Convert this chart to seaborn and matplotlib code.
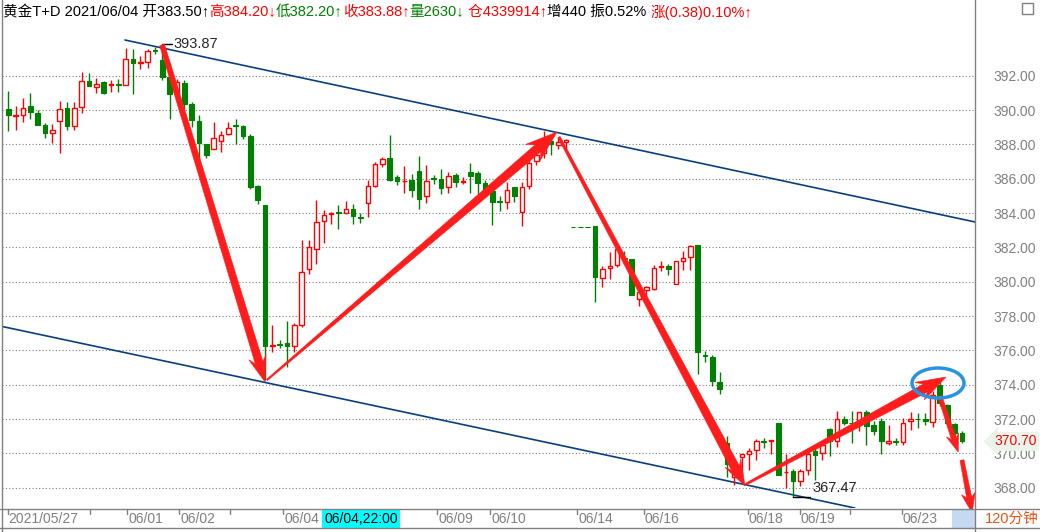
import numpy as np
import pandas as pd
import matplotlib
matplotlib.use("Agg")
import matplotlib.pyplot as plt
import matplotlib.transforms as mtransforms
from matplotlib.patches import Polygon, Ellipse, Rectangle
from matplotlib.lines import Line2D
import seaborn as sns

# 120-minute bars (open / high / low / close)
OPEN = [390.04, 389.65, 389.71, 390.22, 389.81, 389.11, 388.69, 389.38, 390.14, 389.09,
        390.20, 391.71, 391.36, 391.61, 391.46, 391.50, 391.48, 392.99, 392.74, 392.81,
        393.51, 392.93, 391.92, 390.95, 391.55, 390.33, 389.34, 388.05, 387.74, 388.20,
        388.63, 389.13, 389.05, 388.47, 385.57, 384.46, 376.25, 376.35, 376.42, 376.26,
        377.48, 380.76, 381.88, 383.51, 383.92, 384.04, 383.98, 384.21, 383.78, 384.56,
        385.60, 386.88, 387.19, 386.08, 385.84, 385.92, 386.45, 384.97, 386.04, 385.98,
        385.50, 386.21, 385.83, 386.41, 386.33, 385.75, 385.30, 384.68, 384.62, 385.50,
        384.04, 385.59, 387.03, 387.50, 388.21, 387.98, 388.12, 383.20, 383.20, 383.20,
        383.22, 380.19, 380.78, 380.95, 381.40, 381.34, 379.00, 379.51, 379.59, 380.83,
        380.93, 379.86, 381.20, 381.44, 382.16, 375.74, 375.63, 374.16, 370.60, 368.60,
        369.79, 369.96, 370.21, 370.72, 370.74, 371.77, 368.90, 368.99, 368.37, 369.05,
        370.12, 370.00, 371.42, 370.70, 372.00, 371.79, 371.67, 372.41, 371.67, 371.86,
        370.60, 370.74, 370.64, 371.88, 372.02, 372.00, 371.81, 374.00, 372.80, 371.70,
        371.20]
HIGH = [391.09, 390.22, 390.68, 390.97, 390.02, 389.23, 389.17, 390.51, 390.45, 390.45,
        392.23, 392.17, 391.88, 391.71, 391.73, 391.83, 393.63, 393.53, 393.12, 393.57,
        393.67, 393.87, 392.76, 391.81, 391.73, 390.49, 389.69, 388.05, 389.29, 388.78,
        389.29, 389.46, 389.11, 388.61, 385.62, 384.46, 377.48, 376.61, 377.72, 377.58,
        382.43, 382.43, 384.75, 384.15, 384.05, 384.46, 384.73, 384.52, 384.00, 385.93,
        386.96, 387.27, 388.57, 386.21, 386.74, 386.27, 387.34, 386.80, 386.21, 386.56,
        386.41, 386.33, 386.08, 386.93, 386.43, 385.90, 385.59, 384.97, 385.79, 385.50,
        385.79, 387.15, 387.73, 388.76, 388.35, 388.41, 388.31, 383.20, 383.20, 383.20,
        383.22, 380.89, 381.75, 381.96, 381.81, 381.34, 379.60, 379.73, 380.99, 381.22,
        381.03, 381.22, 381.81, 382.16, 382.16, 375.98, 375.71, 374.74, 371.00, 369.10,
        369.96, 370.31, 370.85, 370.89, 370.80, 371.77, 369.98, 369.09, 369.09, 370.21,
        370.50, 370.70, 371.48, 372.45, 372.19, 372.45, 372.43, 372.54, 371.86, 372.06,
        371.67, 370.89, 372.06, 372.41, 372.35, 372.35, 373.61, 374.25, 372.90, 371.80,
        371.30]
LOW = [388.78, 388.82, 389.29, 389.46, 389.13, 388.38, 388.09, 387.50, 388.86, 388.86,
       389.83, 391.40, 390.99, 390.93, 391.05, 391.05, 391.48, 390.95, 392.39, 392.47,
       393.24, 391.77, 389.48, 390.80, 390.04, 389.02, 386.69, 387.23, 387.74, 387.56,
       388.53, 388.03, 388.32, 385.39, 384.54, 374.30, 375.88, 376.13, 375.02, 375.93,
       377.35, 380.43, 381.01, 382.23, 383.38, 383.09, 383.98, 383.34, 383.40, 383.78,
       385.53, 386.69, 385.86, 385.61, 385.18, 384.95, 384.25, 384.56, 385.67, 385.13,
       385.18, 385.53, 385.69, 385.18, 385.01, 385.00, 383.30, 384.14, 384.21, 384.62,
       383.26, 385.40, 386.80, 387.18, 387.40, 387.73, 387.73, 383.20, 383.20, 383.20,
       378.80, 379.67, 380.17, 380.83, 381.28, 379.24, 378.56, 379.10, 379.49, 380.60,
       380.37, 379.86, 380.70, 380.70, 374.62, 375.30, 373.90, 373.44, 368.64, 368.15,
       368.45, 369.05, 369.63, 370.31, 369.96, 368.76, 367.98, 367.47, 368.08, 368.76,
       368.47, 369.60, 369.83, 370.37, 371.67, 370.60, 371.28, 370.50, 371.09, 369.98,
       370.50, 370.50, 370.50, 371.38, 371.48, 371.67, 371.53, 372.74, 371.70, 370.90,
       370.60]
CLOSE = [389.71, 389.70, 390.14, 389.89, 389.13, 388.67, 388.82, 390.08, 389.07, 390.14,
         391.71, 391.40, 391.53, 390.99, 391.50, 391.46, 392.99, 392.74, 392.78, 393.45,
         393.43, 391.94, 390.93, 391.65, 390.37, 389.42, 388.09, 387.37, 388.40, 388.57,
         388.98, 389.07, 388.49, 385.53, 384.77, 376.23, 376.30, 376.30, 376.28, 377.47,
         380.55, 382.04, 383.45, 383.86, 384.01, 383.98, 384.21, 383.80, 383.74, 385.60,
         386.83, 387.17, 385.91, 385.88, 385.88, 385.36, 384.83, 385.84, 386.00, 385.46,
         386.17, 385.79, 385.87, 386.17, 385.77, 385.30, 384.62, 384.64, 385.36, 385.01,
         385.50, 386.91, 387.38, 387.92, 388.02, 388.12, 388.25, 383.20, 383.20, 383.20,
         380.25, 380.74, 380.93, 381.90, 381.35, 379.24, 379.40, 379.69, 380.80, 380.91,
         380.72, 381.22, 381.40, 382.08, 375.88, 375.69, 374.19, 373.73, 369.40, 368.90,
         369.96, 370.12, 370.70, 370.68, 370.78, 368.76, 368.93, 368.37, 368.95, 369.96,
         369.92, 370.50, 370.70, 372.00, 371.77, 371.75, 372.43, 371.61, 371.32, 370.70,
         370.74, 370.64, 371.77, 372.00, 371.98, 371.86, 373.42, 372.93, 371.80, 371.20,
         370.70]

Y_TICKS = list(range(368, 393, 2))
X_TICK_POS = [-0.1, 11.2, 16.2, 23.3, 30.2, 37.5, 58.5, 65.7, 77.6, 86.6, 100.8, 107.9, 114.8, 121.8]
X_TICK_LABELS = ["2021/05/27", "", "06/01", "06/02", "", "06/04", "06/09", "06/10",
                 "06/14", "06/16", "06/18", "06/19", "", "06/23"]

# trend channel (bar index, price)
CHANNEL_UPPER_X = [15.9, 131.8]
CHANNEL_UPPER_Y = [394.08, 383.48]
CHANNEL_LOWER_X = [-1.13, 115.4]
CHANNEL_LOWER_Y = [377.42, 366.82]

# hand drawn red arrows: x0, y0, x1, y1 in bar index / price
ARROWS = [(20.97, 393.79, 35.0, 374.16),
          (35.27, 374.28, 74.8, 388.72),
          (75.08, 388.43, 100.44, 368.10),
          (100.58, 368.21, 127.84, 374.45),
          (127.0, 373.34, 129.5, 370.08),
          (130.02, 369.61, 131.4, 366.53)]
# tail width, neck width, head width, head length (pixels)
ARROW_SIZES = [(5, 8, 18, 26), (1.5, 9, 22, 32), (2.5, 9, 18, 26),
               (2, 9, 20, 30), (4, 5, 13, 18), (4, 5, 14, 20)]

HEADER = [("黄金T+D 2021/06/04 开383.50↑", "black"), ("高384.20↓", "#ff0000"),
          ("低382.20↑", "#008000"), ("收383.88↑", "#ff0000"), ("量2630↓", "#008000"),
          (" 仓4339914↑", "#ff0000"), ("增440 振0.52% ", "black"), ("涨(0.38)0.10%↑", "#ff0000")]

RED = "#ff0000"
GREEN = "#008000"
NAVY = "#0b3f7c"
GRAY = "#808080"
W, H = 1040, 532

sns.set_style("white")
plt.rcParams["font.family"] = ["Liberation Sans", "Noto Sans CJK SC", "DejaVu Sans"]


def fx(px):
    return px / W


def fy(py):
    return 1 - py / H


fig = plt.figure(figsize=(W / 100, H / 100), dpi=100)
ax = fig.add_axes([fx(2), fy(508), fx(975) - fx(2), fy(0) - fy(508)])
ax.patch.set_alpha(0)
for s in ax.spines.values():
    s.set_visible(False)

ax.set_xlim((2 - 8.3) / 7.335, (975 - 8.3) / 7.335)
ax.set_ylim(366.82, 396.41)

o, h, l, c = map(np.array, (OPEN, HIGH, LOW, CLOSE))
x = np.arange(len(o))
up = c > o
dn = ~up

# grid
ax.set_yticks(Y_TICKS)
ax.set_yticklabels([f"{v:.2f}" for v in Y_TICKS])
ax.yaxis.tick_right()
ax.tick_params(axis="y", length=0, pad=13, labelsize=10, labelcolor=GRAY)
ax.set_xticks([])
ax.grid(axis="y", color=GRAY, linestyle=(0, (1, 2)), linewidth=0.8)
ax.set_axisbelow(True)

# channel lines
chan = pd.DataFrame({"idx": CHANNEL_UPPER_X + CHANNEL_LOWER_X,
                     "price": CHANNEL_UPPER_Y + CHANNEL_LOWER_Y,
                     "line": ["upper", "upper", "lower", "lower"]})
sns.lineplot(data=chan, x="idx", y="price", units="line", estimator=None,
             color=NAVY, linewidth=1.2, ax=ax, legend=False, zorder=1)
ax.set_xlabel("")
ax.set_ylabel("")

# candles
ax.vlines(x[up], l[up], h[up], color=RED, linewidth=1, zorder=2)
ax.vlines(x[dn], l[dn], h[dn], color=GREEN, linewidth=1, zorder=2)
hu = c[up] - o[up]
ax.bar(x[up], np.maximum(hu, 0.02), bottom=o[up], width=0.6, facecolor="white",
       edgecolor=RED, linewidth=1, zorder=3)
hd = c[dn] - o[dn]
ax.bar(x[dn], np.minimum(hd, -0.02), bottom=o[dn], width=0.64, facecolor=GREEN,
       edgecolor=GREEN, linewidth=0.8, zorder=3)

# high / low marks
ih = int(np.argmax(h))
ax.plot([ih, ih + 1.3], [h[ih], h[ih]], color="black", linewidth=1, zorder=4)
ax.text(ih + 1.55, h[ih], f"{h[ih]:.2f}", fontsize=10.5, va="center", ha="left", zorder=4)
il = int(np.argmin(l))
ax.plot([il, il + 2.3], [l[il], l[il]], color="black", linewidth=1, zorder=4)
ax.text(il + 2.7, l[il] + 0.12, f"{l[il]:.2f}", fontsize=10.5, va="bottom", ha="left", zorder=4)

fig.canvas.draw()


def tapered_arrow(x0, y0, x1, y1, w0, w1, hw, hl, clip=True):
    p0 = ax.transData.transform((x0, y0))
    p1 = ax.transData.transform((x1, y1))
    d = p1 - p0
    d = d / np.hypot(*d)
    n = np.array([-d[1], d[0]])
    neck = p1 - d * hl * 0.78
    barb = p1 - d * hl
    pts = [p0 + n * w0 / 2, neck + n * w1 / 2, barb + n * hw / 2, p1,
           barb - n * hw / 2, neck - n * w1 / 2, p0 - n * w0 / 2]
    pts = ax.transData.inverted().transform(pts)
    ax.add_patch(Polygon(pts, closed=True, facecolor="#ff1c1c", edgecolor="#ff1c1c",
                         linewidth=0.4, zorder=6, clip_on=clip))


for i, (a, s) in enumerate(zip(ARROWS, ARROW_SIZES)):
    tapered_arrow(*a, *s, clip=(i != len(ARROWS) - 1))

ax.add_patch(Ellipse((126.75, 374.1), 52 / 7.335, 30 / 17.17, fill=False,
                     edgecolor="#2a93e0", linewidth=2.5, zorder=7))

# last price tag
blend = mtransforms.blended_transform_factory(ax.transAxes, ax.transData)
ax.annotate(f"{c[-1]:.2f}", xy=(1.0, c[-1]), xycoords=blend, xytext=(19, 0),
            textcoords="offset pixels", ha="left", va="center", fontsize=10, color=RED,
            bbox=dict(boxstyle="larrow,pad=0.18", facecolor="#eaf4ea", edgecolor="none"),
            zorder=8, annotation_clip=False)

# frame lines
for (xa, ya, xb, yb) in [(2, 0, 2, 532), (975, 0, 975, 532), (0, 509, 1040, 509),
                         (0, 528, 1040, 528)]:
    fig.add_artist(Line2D([fx(xa), fx(xb)], [fy(ya), fy(yb)], color=GRAY, linewidth=1))

# bottom date strip
bt = mtransforms.blended_transform_factory(ax.transData, fig.transFigure)
for pos, lab in zip(X_TICK_POS, X_TICK_LABELS):
    fig.add_artist(Line2D([pos, pos], [fy(509), fy(514)], transform=bt, color=GRAY, linewidth=1))
    if lab:
        fig.text(pos + 0.15, fy(519), lab, transform=bt, fontsize=10, color=GRAY,
                 ha="left", va="center")

fig.add_artist(Rectangle((fx(322), fy(528)), fx(400) - fx(322), fy(510) - fy(528),
                         facecolor="#00ffff", edgecolor="none", transform=fig.transFigure))
fig.text(fx(361), fy(519), "06/04,22:00", fontsize=10, color="black", ha="center", va="center")
fig.add_artist(Rectangle((fx(952), fy(528)), fx(975) - fx(952), fy(510) - fy(528),
                         facecolor="#c5d9f1", edgecolor="none", transform=fig.transFigure))
fig.text(fx(985), fy(519), "120分钟", fontsize=10.5, color="#e4561b", ha="left", va="center")

# header line
renderer = fig.canvas.get_renderer()
hx = 3
for txt, col in HEADER:
    t = fig.text(fx(hx), fy(12), txt, fontsize=10.5, color=col, ha="left", va="center")
    hx += t.get_window_extent(renderer).width

fig.add_artist(Rectangle((fx(1022), fy(14)), fx(11), 11 / H, facecolor="none",
                         edgecolor=GRAY, linewidth=1, transform=fig.transFigure))

fig.savefig("out.png", dpi=100)
